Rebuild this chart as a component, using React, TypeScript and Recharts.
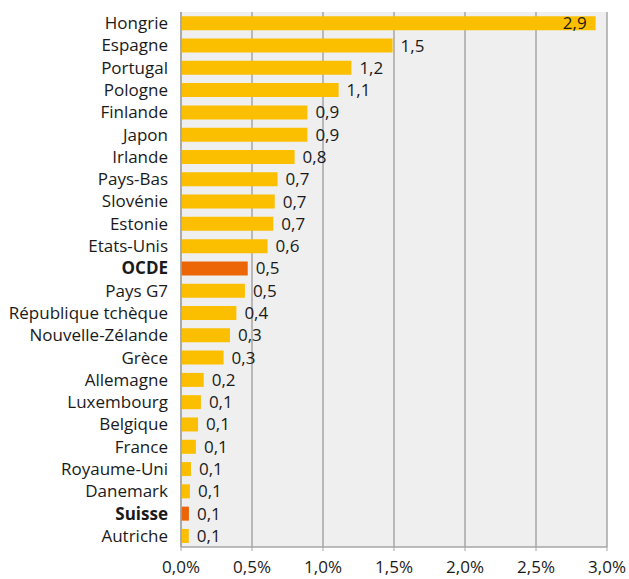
import { Bar, BarChart, CartesianGrid, Cell, LabelList, XAxis, YAxis } from "recharts"

// Pays et valeurs (en %)
const countries = [
  "Hongrie", "Espagne", "Portugal", "Pologne", "Finlande", "Japon", "Irlande", "Pays-Bas",
  "Slovénie", "Estonie", "Etats-Unis", "OCDE", "Pays G7", "République tchèque",
  "Nouvelle-Zélande", "Grèce", "Allemagne", "Luxembourg", "Belgique", "France",
  "Royaume-Uni", "Danemark", "Suisse", "Autriche",
]
const values = [
  2.92, 1.49, 1.2, 1.11, 0.89, 0.89, 0.8, 0.68, 0.66, 0.65, 0.61, 0.47, 0.45, 0.39,
  0.345, 0.3, 0.16, 0.14, 0.12, 0.105, 0.07, 0.063, 0.056, 0.055,
]
const valueLabels = [
  "2,9", "1,5", "1,2", "1,1", "0,9", "0,9", "0,8", "0,7", "0,7", "0,7", "0,6", "0,5", "0,5",
  "0,4", "0,3", "0,3", "0,2", "0,1", "0,1", "0,1", "0,1", "0,1", "0,1", "0,1",
]
const highlighted = ["OCDE", "Suisse"]
const xTicks = [0, 0.5, 1, 1.5, 2, 2.5, 3]

const YELLOW = "#fbbf00"
const ORANGE = "#ec6608"
const GRID = "#a6a6a6"
const TEXT = "#1a1a1a"
const FONT = "'Open Sans', 'DejaVu Sans', sans-serif"
const FONT_SIZE = 17

const data = countries.map((name, i) => ({ name, value: values[i], label: valueLabels[i] }))

function CountryTick(props: any) {
  const { x, y, payload } = props
  const bold = highlighted.includes(payload.value)
  return (
    <text x={x} y={y} dy={6} textAnchor="end" fill={TEXT} fontSize={FONT_SIZE} fontFamily={FONT} fontWeight={bold ? 700 : 400}>
      {payload.value}
    </text>
  )
}

function ValueLabel(props: any) {
  const { x, y, width, height, index } = props
  const inside = index === 0 // Hongrie : étiquette dans la barre
  return (
    <text
      x={inside ? x + width - 9 : x + width + 8}
      y={y + height / 2}
      dy={6}
      textAnchor={inside ? "end" : "start"}
      fill={TEXT}
      fontSize={FONT_SIZE}
      fontFamily={FONT}
    >
      {valueLabels[index]}
    </text>
  )
}

function PercentTick(props: any) {
  const { x, y, payload } = props
  return (
    <text x={x} y={y} dy={14} textAnchor="middle" fill={TEXT} fontSize={FONT_SIZE} fontFamily={FONT}>
      {payload.value.toFixed(1).replace(".", ",") + "%"}
    </text>
  )
}

export default function App() {
  return (
    <div style={{ position: "absolute", left: 0, top: 0, background: "#fff" }}>
      <BarChart
        width={629}
        height={579}
        data={data}
        layout="vertical"
        margin={{ top: 12, right: 22, bottom: 2, left: 0 }}
        barCategoryGap="19%"
      >
        <CartesianGrid horizontal={false} fill="#efefef" stroke={GRID} strokeWidth={1.5} />
        <XAxis
          type="number"
          domain={[0, 3]}
          ticks={xTicks}
          interval={0}
          tick={<PercentTick />}
          axisLine={{ stroke: GRID, strokeWidth: 1.5 }}
          tickLine={{ stroke: GRID }}
          tickSize={4}
          tickMargin={8}
          height={30}
        />
        <XAxis
          xAxisId="top"
          orientation="top"
          type="number"
          domain={[0, 3]}
          height={0}
          tick={false}
          tickLine={false}
          axisLine={{ stroke: GRID, strokeWidth: 1.5 }}
        />
        <YAxis
          type="category"
          dataKey="name"
          width={181}
          interval={0}
          tick={<CountryTick />}
          tickSize={0}
          tickMargin={13}
          axisLine={{ stroke: GRID, strokeWidth: 1.5 }}
          tickLine={false}
        />
        <Bar dataKey="value" isAnimationActive={false}>
          {data.map((d) => (
            <Cell key={d.name} fill={highlighted.includes(d.name) ? ORANGE : YELLOW} />
          ))}
          <LabelList dataKey="label" content={<ValueLabel />} />
        </Bar>
      </BarChart>
    </div>
  )
}
